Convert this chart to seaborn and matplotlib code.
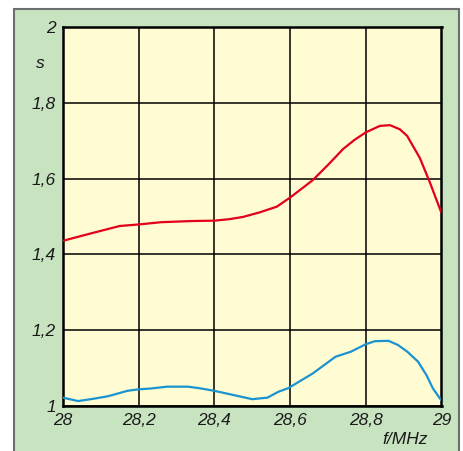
import numpy as np
import matplotlib
matplotlib.use('Agg')
import matplotlib.pyplot as plt
import pandas as pd
import seaborn as sns
from matplotlib.patches import Rectangle

# values (f in MHz, s = SWR)
f_red = [28.0, 28.08, 28.15, 28.2, 28.26, 28.34, 28.40, 28.44, 28.476, 28.52, 28.565,
         28.60, 28.66, 28.70, 28.74, 28.77, 28.80, 28.837, 28.864, 28.89, 28.909, 28.943, 28.97, 29.0]
s_red = [1.436, 1.457, 1.475, 1.479, 1.485, 1.488, 1.489, 1.493, 1.499, 1.511, 1.526,
         1.550, 1.596, 1.636, 1.678, 1.702, 1.722, 1.739, 1.741, 1.730, 1.713, 1.654, 1.588, 1.509]

f_blue = [28.0, 28.04, 28.08, 28.12, 28.17, 28.2, 28.23, 28.275, 28.33, 28.36, 28.4, 28.45,
          28.5, 28.54, 28.57, 28.595, 28.66, 28.72, 28.76, 28.80, 28.824, 28.86, 28.885,
          28.91, 28.938, 28.96, 28.977, 29.0]
s_blue = [1.022, 1.013, 1.019, 1.026, 1.040, 1.044, 1.046, 1.051, 1.051, 1.047, 1.040, 1.029,
          1.018, 1.022, 1.038, 1.047, 1.086, 1.130, 1.143, 1.163, 1.171, 1.172, 1.161,
          1.143, 1.117, 1.082, 1.047, 1.014]

x_ticks = [28.0, 28.2, 28.4, 28.6, 28.8, 29.0]
x_labels = ['28', '28,2', '28,4', '28,6', '28,8', '29']
y_ticks = [1.0, 1.2, 1.4, 1.6, 1.8, 2.0]
y_labels = ['1', '1,2', '1,4', '1,6', '1,8', '2']

sns.set_style("white")
plt.rcParams['font.family'] = ['Liberation Sans', 'DejaVu Sans']

W, H = 464, 451
fig = plt.figure(figsize=(W / 100, H / 100), dpi=100)
fig.patch.set_facecolor('white')
# green panel behind the chart
fig.patches.append(Rectangle((14 / W, -0.3), (459 - 14) / W, 1.3 - 9 / H,
                             transform=fig.transFigure, facecolor='#c8e3c0',
                             edgecolor='#6e6e6e', linewidth=1.5, zorder=-10))

ax = fig.add_axes([63 / W, (H - 406) / H, 378.5 / W, 379 / H])
ax.set_facecolor('#fffbd3')

red = pd.DataFrame({'f': f_red, 's': s_red})
blue = pd.DataFrame({'f': f_blue, 's': s_blue})
sns.lineplot(data=red, x='f', y='s', color='#e2001a', linewidth=1.6, ax=ax, zorder=3)
sns.lineplot(data=blue, x='f', y='s', color='#1a93d0', linewidth=1.6, ax=ax, zorder=3)

ax.set_xlim(28, 29)
ax.set_ylim(1, 2)
ax.set_xticks(x_ticks)
ax.set_xticklabels(x_labels, fontstyle='italic', fontsize=12.5)
ax.set_yticks(y_ticks)
ax.set_yticklabels(y_labels, fontstyle='italic', fontsize=12.5)
ax.tick_params(length=0, pad=5, colors='#1a1a1a')
ax.grid(True, color='black', linewidth=1.1)
ax.set_axisbelow(True)
for sp in ax.spines.values():
    sp.set_visible(True)
    sp.set_color('black')
    sp.set_linewidth(1.8)
ax.set_xlabel('')
ax.set_ylabel('')

fig.text(40 / W, 1 - 63 / H, 's', fontstyle='italic', fontsize=12.5,
         ha='center', va='center', color='#1a1a1a')
fig.text(405 / W, 1 - 439 / H, 'f/MHz', fontstyle='italic', fontsize=12.5,
         ha='center', va='center', color='#1a1a1a')

fig.savefig('out.png', dpi=100, facecolor=fig.get_facecolor())
